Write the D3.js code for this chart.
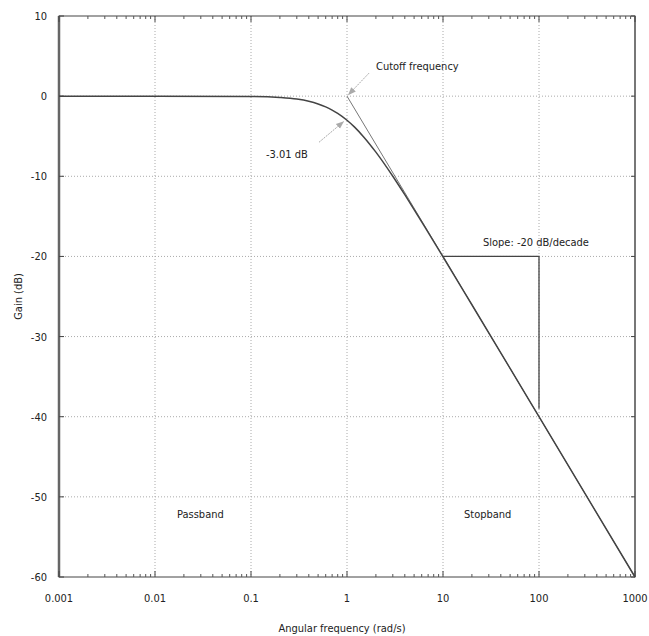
<!DOCTYPE html>
<html>
<head>
<meta charset="utf-8">
<script src="https://cdn.jsdelivr.net/npm/d3@7"></script>
<style>
  body { margin: 0; background: #fff; }
  text { font-family: "DejaVu Sans Condensed", "DejaVu Sans", sans-serif; fill: #222; }
</style>
</head>
<body>
<svg id="chart" width="649" height="636"></svg>
<script>
// values
var freqTicks = [0.001, 0.01, 0.1, 1, 10, 100, 1000];
var freqLabels = ['0.001', '0.01', '0.1', '1', '10', '100', '1000'];
var gainTicks = [10, 0, -10, -20, -30, -40, -50, -60];

// response curve (rad/s, dB)
var curveFreq = [0.001, 0.01, 0.1, 0.2, 0.3, 0.4, 0.5, 0.6, 0.7, 0.8, 1, 1.2, 1.5, 2, 3, 4, 5, 7, 10, 20, 50, 100, 1000];
var curveGain = [0, 0, -0.04, -0.17, -0.37, -0.64, -0.97, -1.34, -1.74, -2.15, -3.01, -3.87, -5.12, -6.99, -10, -12.3, -14.15, -17, -20.04, -26.03, -33.98, -40, -60];

// straight-line asymptote
var asymFreq = [1, 1000];
var asymGain = [0, -60];

// slope marker
var slopeFreq = [10, 100, 100];
var slopeGain = [-20, -20, -39];

var svg = d3.select('#chart');
var margin = {top: 16, right: 14, bottom: 59, left: 59};
var width = 649 - margin.left - margin.right,
    height = 636 - margin.top - margin.bottom;

var x = d3.scaleLog().domain([0.001, 1000]).range([0, width]);
var y = d3.scaleLinear().domain([-60, 10]).range([height, 0]);

var g = svg.append('g').attr('transform', 'translate(' + margin.left + ',' + margin.top + ')');

// minor ticks for the log axis
var minor = [];
freqTicks.slice(0, -1).forEach(function (d) {
    for (var k = 2; k < 10; k++) minor.push(d * k);
});

// grid
g.append('g').selectAll('line')
    .data(freqTicks.slice(1, -1))
    .enter().append('line')
    .attr('x1', function (d) { return x(d); })
    .attr('x2', function (d) { return x(d); })
    .attr('y1', 0).attr('y2', height)
    .attr('stroke', '#aaa').attr('stroke-width', 1)
    .attr('stroke-dasharray', '1,2');

g.append('g').selectAll('line')
    .data(gainTicks.slice(1, -1))
    .enter().append('line')
    .attr('x1', 0).attr('x2', width)
    .attr('y1', function (d) { return y(d); })
    .attr('y2', function (d) { return y(d); })
    .attr('stroke', '#aaa').attr('stroke-width', 1)
    .attr('stroke-dasharray', '1,2');

// frame
g.append('rect')
    .attr('width', width).attr('height', height)
    .attr('fill', 'none').attr('stroke', '#444').attr('stroke-width', 1);
g.append('line')
    .attr('x1', 0).attr('x2', 0).attr('y1', 0).attr('y2', height)
    .attr('stroke', '#666').attr('stroke-width', 2.5);
g.append('line')
    .attr('x1', width).attr('x2', width).attr('y1', 0).attr('y2', height)
    .attr('stroke', '#777').attr('stroke-width', 2);

// ticks on bottom and top (inward)
[height, 0].forEach(function (yy) {
    var dir = yy === 0 ? 1 : -1;
    g.append('g').selectAll('line')
        .data(minor)
        .enter().append('line')
        .attr('x1', function (d) { return x(d); })
        .attr('x2', function (d) { return x(d); })
        .attr('y1', yy).attr('y2', yy + dir * 3)
        .attr('stroke', '#555');
    g.append('g').selectAll('line')
        .data(freqTicks)
        .enter().append('line')
        .attr('x1', function (d) { return x(d); })
        .attr('x2', function (d) { return x(d); })
        .attr('y1', yy).attr('y2', yy + dir * 6)
        .attr('stroke', '#444');
});

// y ticks inward on both sides
g.append('g').selectAll('line')
    .data(gainTicks)
    .enter().append('line')
    .attr('x1', 0).attr('x2', 5)
    .attr('y1', function (d) { return y(d); })
    .attr('y2', function (d) { return y(d); })
    .attr('stroke', '#444');
g.append('g').selectAll('line')
    .data(gainTicks)
    .enter().append('line')
    .attr('x1', width - 4).attr('x2', width)
    .attr('y1', function (d) { return y(d); })
    .attr('y2', function (d) { return y(d); })
    .attr('stroke', '#444');

// tick labels
g.append('g').selectAll('text')
    .data(freqTicks)
    .enter().append('text')
    .attr('x', function (d) { return x(d); })
    .attr('y', height + 25)
    .attr('text-anchor', 'middle')
    .attr('font-size', 11)
    .text(function (d, i) { return freqLabels[i]; });

g.append('g').selectAll('text')
    .data(gainTicks)
    .enter().append('text')
    .attr('x', -12)
    .attr('y', function (d) { return y(d) + 4; })
    .attr('text-anchor', 'end')
    .attr('font-size', 11)
    .text(function (d) { return d; });

// axis titles
svg.append('text')
    .attr('x', margin.left + width / 2 - 5)
    .attr('y', 632)
    .attr('text-anchor', 'middle')
    .attr('font-size', 11)
    .text('Angular frequency (rad/s)');

svg.append('text')
    .attr('transform', 'translate(22,' + (margin.top + y(-25)) + ') rotate(-90)')
    .attr('text-anchor', 'middle')
    .attr('font-size', 11)
    .text('Gain (dB)');

var line = d3.line()
    .x(function (d) { return x(d[0]); })
    .y(function (d) { return y(d[1]); });

// asymptote
g.append('path')
    .datum(d3.zip(asymFreq, asymGain))
    .attr('d', line)
    .attr('fill', 'none').attr('stroke', '#777').attr('stroke-width', 1);

// slope marker
g.append('path')
    .datum(d3.zip(slopeFreq, slopeGain))
    .attr('d', line)
    .attr('fill', 'none').attr('stroke', '#444').attr('stroke-width', 1.3);

// response
g.append('path')
    .datum(d3.zip(curveFreq, curveGain))
    .attr('d', line.curve(d3.curveMonotoneX))
    .attr('fill', 'none').attr('stroke', '#444').attr('stroke-width', 1.5);

// arrows
var defs = svg.append('defs');
defs.append('marker')
    .attr('id', 'arr')
    .attr('viewBox', '0 0 10 10')
    .attr('refX', 10).attr('refY', 5)
    .attr('markerWidth', 8).attr('markerHeight', 8)
    .attr('orient', 'auto')
    .append('path')
    .attr('d', 'M0,1 L10,5 L0,9 Z')
    .attr('fill', '#aaa');

g.append('line')
    .attr('x1', x(1) + 22).attr('y1', y(0) - 23)
    .attr('x2', x(1) + 1).attr('y2', y(0) - 1)
    .attr('stroke', '#aaa').attr('stroke-width', 1)
    .attr('stroke-dasharray', '2,1')
    .attr('marker-end', 'url(#arr)');

g.append('line')
    .attr('x1', x(1) - 28).attr('y1', y(-3.01) + 22)
    .attr('x2', x(1) - 3).attr('y2', y(-3.01) + 1)
    .attr('stroke', '#aaa').attr('stroke-width', 1)
    .attr('stroke-dasharray', '2,1')
    .attr('marker-end', 'url(#arr)');

// annotations
g.append('text')
    .attr('x', x(1) + 29).attr('y', y(0) - 26)
    .attr('font-size', 11)
    .text('Cutoff frequency');

g.append('text')
    .attr('x', x(1) - 81).attr('y', y(-3.01) + 38)
    .attr('font-size', 11)
    .text('-3.01 dB');

g.append('text')
    .attr('x', x(10) + 40).attr('y', y(-20) - 10)
    .attr('font-size', 11)
    .text('Slope: -20 dB/decade');

g.append('text')
    .attr('x', x(0.01) + 22).attr('y', y(-52.7))
    .attr('font-size', 11)
    .text('Passband');

g.append('text')
    .attr('x', x(10) + 21).attr('y', y(-52.7))
    .attr('font-size', 11)
    .text('Stopband');
</script>
</body>
</html>
